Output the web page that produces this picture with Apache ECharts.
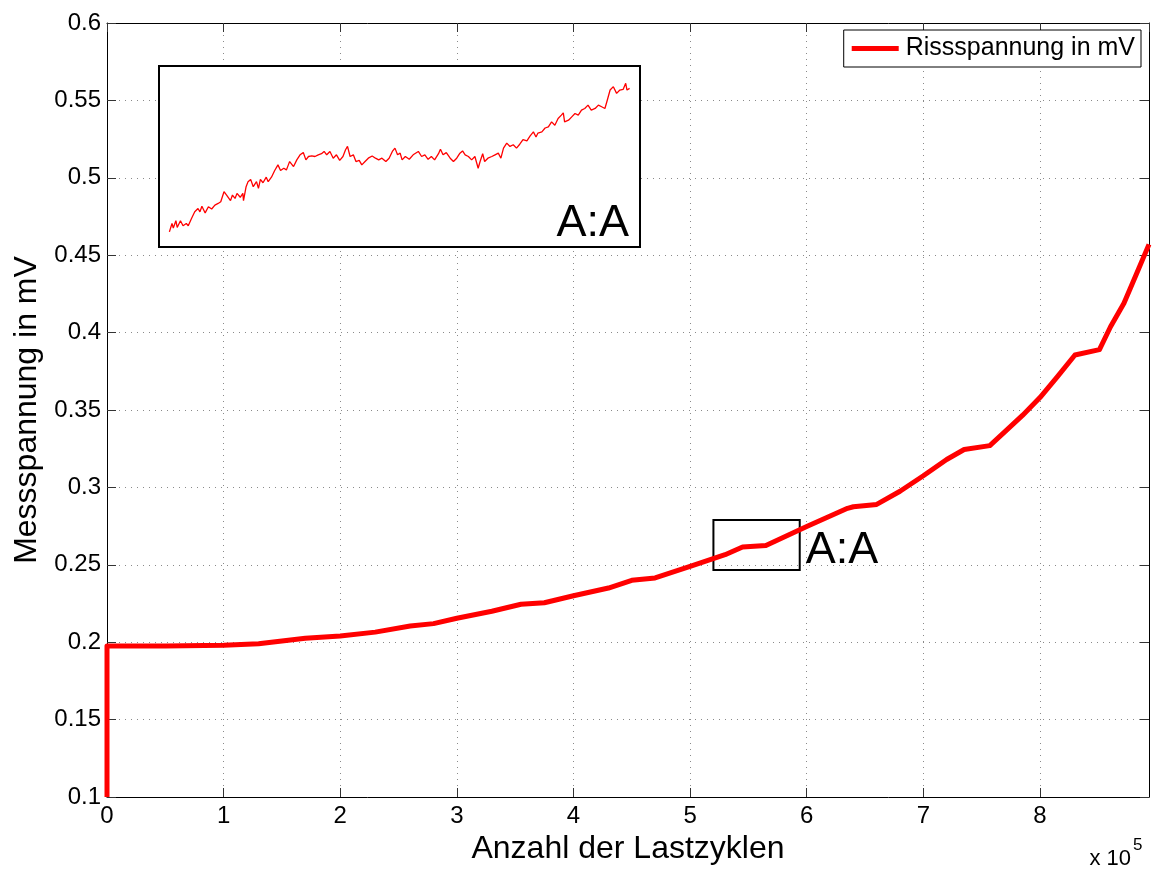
<!DOCTYPE html>
<html>
<head>
<meta charset="utf-8">
<script src="https://cdn.jsdelivr.net/npm/echarts@6/dist/echarts.min.js"></script>
<style>
html,body{margin:0;padding:0;background:#fff;}
#chart{width:1158px;height:871px;}
</style>
</head>
<body>
<div id="chart"></div>
<script>
// ---- Data ----
const seriesName = 'Rissspannung in mV';
const xAxisName = 'Anzahl der Lastzyklen';
const yAxisName = 'Messspannung in mV';
const xTickLabels = ['0','1','2','3','4','5','6','7','8'];
const xScaleText = 'x 10';
const xScaleExp = '5';
const zoomLabel = 'A:A';

const mainCycles = [0, 0, 50000, 100000, 130000, 170000, 200000, 230000, 260000, 280000, 300000, 330000, 355000, 375000, 400000, 430000, 450000, 470000, 500000, 530000, 545000, 565000, 600000, 635000, 640000, 660000, 680000, 700000, 720000, 735000, 757000, 770000, 785000, 800000, 815000, 830000, 851000, 860500, 872000, 883000, 893500];
const mainVolt   = [0.100, 0.1975, 0.1975, 0.198, 0.199, 0.2025, 0.204, 0.2065, 0.2105, 0.212, 0.2155, 0.220, 0.2245, 0.2255, 0.230, 0.235, 0.240, 0.2415, 0.249, 0.2565, 0.2615, 0.2625, 0.2748, 0.2865, 0.2875, 0.289, 0.2975, 0.3075, 0.318, 0.3245, 0.327, 0.336, 0.3465, 0.358, 0.3715, 0.3855, 0.389, 0.4038, 0.4189, 0.4383, 0.457];

// zoom box A:A (cycles / mV)
const zoomBoxX = [520000, 594000];
const zoomBoxY = [0.2466, 0.279];

const insetCycles = [
521600,522000,522200,522600,522800,523300,523700,524200,524500,525000,
525500,526000,526300,526600,527100,527600,528100,528600,529100,529500,
530000,530400,530700,531000,531300,531700,532000,532500,532900,533000,
533400,533700,534100,534500,535000,535300,535600,536000,536500,536800,
537300,537800,538300,538700,539200,539600,539900,540100,540700,541200,
541700,542200,542600,543000,543500,544000,544500,545000,545400,545800,
546300,546800,547300,547800,548300,548700,549000,549400,549900,550300,
550800,551200,551700,552200,552800,553300,553800,554300,554900,555400,
555900,556300,556700,557100,557400,557900,558500,559100,559400,559900,
560400,560900,561400,561900,562400,563000,563300,563700,564200,564800,
565300,565800,566300,566700,567100,567600,568100,568600,569100,569400,
569800,570100,570600,571200,571700,572200,572600,573000,573500,574000,
574500,575000,575500,576000,576600,577100,577600,578000,578300,578900,
579400,579900,580400,580900,581400,581900,582200,582400,583000,583500,
584000,584500,585000,585500,586000,586500,587100,587600,588100,588600,
588900,589400,589900,590400,590900,591400,591800,592000,592400];
const insetVolt = [
0.2493,0.2508,0.2500,0.2513,0.2501,0.2513,0.2504,0.2508,0.2504,0.2517,
0.2529,0.2535,0.2529,0.2539,0.2527,0.2538,0.2534,0.2541,0.2544,0.2547,
0.2565,0.2559,0.2562,0.2549,0.2559,0.2553,0.2562,0.2555,0.2562,0.2549,
0.2574,0.2583,0.2587,0.2574,0.2583,0.2571,0.2587,0.2581,0.2591,0.2583,
0.2591,0.2603,0.2613,0.2603,0.2607,0.2604,0.2613,0.2619,0.2610,0.2622,
0.2631,0.2635,0.2622,0.2628,0.2629,0.2628,0.2631,0.2633,0.2637,0.2631,
0.2637,0.2625,0.2631,0.2621,0.2628,0.2640,0.2646,0.2628,0.2631,0.2619,
0.2621,0.2613,0.2619,0.2625,0.2629,0.2625,0.2622,0.2625,0.2619,0.2625,
0.2637,0.2643,0.2631,0.2634,0.2622,0.2628,0.2623,0.2631,0.2634,0.2637,
0.2628,0.2631,0.2623,0.2628,0.2622,0.2633,0.2641,0.2631,0.2635,0.2625,
0.2619,0.2625,0.2634,0.2638,0.2631,0.2628,0.2622,0.2628,0.2607,0.2619,
0.2633,0.2619,0.2625,0.2628,0.2631,0.2634,0.2625,0.2643,0.2652,0.2646,
0.2649,0.2643,0.2650,0.2658,0.2656,0.2665,0.2672,0.2663,0.2670,0.2672,
0.2679,0.2681,0.2690,0.2684,0.2696,0.2702,0.2706,0.2690,0.2693,0.2699,
0.2705,0.2702,0.2711,0.2714,0.2720,0.2711,0.2714,0.2720,0.2717,0.2714,
0.2726,0.2747,0.2753,0.2741,0.2747,0.2748,0.2759,0.2747,0.2750];

// ---- Chart ----
const FONT = '"Liberation Sans", Arial, Helvetica, sans-serif';
const mainData = mainCycles.map((c, i) => [c, mainVolt[i]]);
const insetData = insetCycles.map((c, i) => [c, insetVolt[i]]);

const chart = echarts.init(document.getElementById('chart'), null, {renderer: 'canvas'});

const gridLine = {show: true, lineStyle: {color: '#8a8a8a', width: 1, type: [1, 5]}};
const tickStyle = {show: true, inside: true, length: 9, lineStyle: {color: '#333', width: 1}};
const xMin = 0, xMax = 893500;
const yMin = 0.1, yMax = 0.6;

const option = {
  animation: false,
  backgroundColor: '#fff',
  textStyle: {fontFamily: FONT},
  grid: [
    {left: 107, top: 23, right: 9, bottom: 74, show: false},
    {left: 159, top: 66, width: 481, height: 181, show: true, backgroundColor: '#fff',
     borderColor: '#000', borderWidth: 2, zlevel: 1}
  ],
  legend: {
    data: [{name: seriesName, icon: 'rect'}],
    right: 17, top: 30,
    itemWidth: 47, itemHeight: 5, itemGap: 6,
    padding: [6, 6, 6, 8],
    borderColor: '#000', borderWidth: 1, backgroundColor: '#fff',
    textStyle: {fontFamily: FONT, fontSize: 25, color: '#000', padding: [0, 0, 0, 2]},
    zlevel: 2
  },
  xAxis: [
    {type: 'value', gridIndex: 0, min: xMin, max: xMax, interval: 100000,
     name: xAxisName, nameLocation: 'middle', nameGap: 31,
     nameTextStyle: {fontFamily: FONT, fontSize: 32, color: '#000'},
     axisLine: {show: true, onZero: false, lineStyle: {color: '#000', width: 1}},
     axisTick: tickStyle,
     axisLabel: {fontFamily: FONT, fontSize: 24, color: '#000', margin: 7, showMaxLabel: false,
       formatter: v => (v % 100000 === 0 ? xTickLabels[v / 100000] : '')},
     splitLine: gridLine},
    {type: 'value', gridIndex: 0, position: 'top', min: xMin, max: xMax, interval: 100000,
     axisLine: {show: true, onZero: false, lineStyle: {color: '#000', width: 1}},
     axisTick: tickStyle, axisLabel: {show: false}, splitLine: {show: false}},
    {type: 'value', gridIndex: 1, min: zoomBoxX[0], max: zoomBoxX[1], show: false, zlevel: 1}
  ],
  yAxis: [
    {type: 'value', gridIndex: 0, min: yMin, max: yMax, interval: 0.05,
     name: yAxisName, nameLocation: 'middle', nameGap: 63, nameRotate: 90,
     nameTextStyle: {fontFamily: FONT, fontSize: 32, color: '#000'},
     axisLine: {show: true, onZero: false, lineStyle: {color: '#000', width: 1}},
     axisTick: tickStyle,
     axisLabel: {fontFamily: FONT, fontSize: 24, color: '#000', margin: 6,
       formatter: v => String(+v.toFixed(2))},
     splitLine: gridLine},
    {type: 'value', gridIndex: 0, position: 'right', min: yMin, max: yMax, interval: 0.05,
     axisLine: {show: true, onZero: false, lineStyle: {color: '#000', width: 1}},
     axisTick: tickStyle, axisLabel: {show: false}, splitLine: {show: false}},
    {type: 'value', gridIndex: 1, min: zoomBoxY[0], max: zoomBoxY[1], show: false, zlevel: 1}
  ],
  series: [
    {name: seriesName, type: 'line', xAxisIndex: 0, yAxisIndex: 0, data: mainData,
     showSymbol: false, symbol: 'none', color: '#ff0000',
     lineStyle: {color: '#ff0000', width: 5, join: 'round'},
     markArea: {
       silent: true,
       itemStyle: {color: 'rgba(0,0,0,0)', borderColor: '#000', borderWidth: 2},
       label: {show: true, position: 'right', distance: 5, offset: [0, 6], formatter: zoomLabel,
         fontFamily: FONT, fontSize: 45, color: '#000'},
       data: [[{xAxis: zoomBoxX[0], yAxis: zoomBoxY[0]}, {xAxis: zoomBoxX[1], yAxis: zoomBoxY[1]}]]
     }},
    {name: 'inset', type: 'line', xAxisIndex: 2, yAxisIndex: 2, data: insetData,
     showSymbol: false, symbol: 'none', zlevel: 1, z: 5,
     lineStyle: {color: '#ff0000', width: 1.3}}
  ],
  graphic: [
    {type: 'text', zlevel: 2, x: 629, y: 224,
     style: {text: zoomLabel, font: '45px ' + FONT, fill: '#000', align: 'right', verticalAlign: 'middle'}},
    {type: 'text', zlevel: 2, x: 1131, y: 859,
     style: {text: xScaleText, font: '22px ' + FONT, fill: '#000', align: 'right', verticalAlign: 'middle'}},
    {type: 'text', zlevel: 2, x: 1133, y: 845,
     style: {text: xScaleExp, font: '17px ' + FONT, fill: '#000', align: 'left', verticalAlign: 'middle'}}
  ]
};
chart.setOption(option);
</script>
</body>
</html>
